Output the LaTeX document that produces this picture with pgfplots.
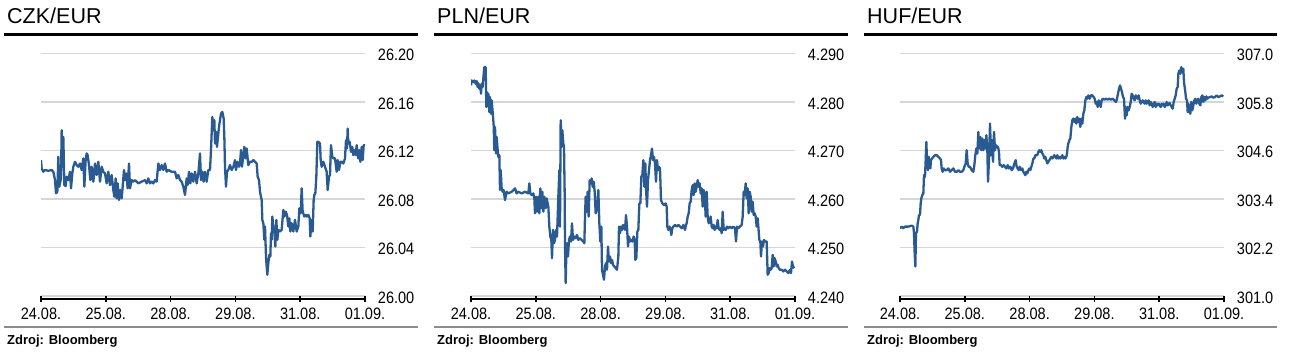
\documentclass[border=0pt]{standalone}
\usepackage{fontspec}
\setmainfont{Liberation Sans}
\newfontfamily\tickfont[FakeStretch=0.88]{Liberation Sans}
\usepackage{pgfplots}
\pgfplotsset{compat=1.18}
\definecolor{serie}{HTML}{2A5A92}
\definecolor{gridc}{HTML}{D6D6D6}
\definecolor{rulegray}{HTML}{8C8C8C}
\pgfplotsset{fx/.style={
  scale only axis, width=324pt, height=242.5pt, anchor=south west,
  xmin=0, xmax=972,
  xtick={0,194.4,388.8,583.2,777.6,972},
  xticklabels={24.08.,25.08.,28.08.,29.08.,31.08.,01.09.},
  axis x line*=bottom, axis y line*=right,
  y axis line style={draw=none},
  x axis line style={line width=1.6pt, black, yshift=-3pt},
  xtick style={line width=1.6pt, black, yshift=-3pt},
  ytick style={draw=none},
  major tick length=5.5pt, tick align=center,
  ymajorgrids, grid style={gridc, line width=1.7pt},
  ticklabel style={font=\tickfont\fontsize{16.5}{18}\selectfont, text=black},
  yticklabel style={anchor=west, inner sep=0pt, xshift=10pt, yshift=-1.5pt},
  xticklabel style={anchor=north, inner sep=0pt, yshift=-9pt},
}}
\begin{document}
\begin{tikzpicture}
\useasboundingbox (0pt,0pt) rectangle (1292pt,-360pt);
% ---------- CZK ----------
\node[anchor=base west, inner sep=0pt, font=\fontsize{21.5}{24}\selectfont] at (7pt,-23.3pt) {CZK/EUR};
\draw[line width=3.3pt] (4pt,-34.3pt) -- (418.3pt,-34.3pt);
\draw[rulegray, line width=2pt] (4pt,-326.7pt) -- (418.3pt,-326.7pt);
\node[anchor=base west, inner sep=0pt, font=\bfseries\fontsize{13}{15}\selectfont] at (7pt,-344pt) {Zdroj: Bloomberg};
\begin{axis}[fx, at={(41pt,-296pt)}, ymin=26, ymax=26.2,
  ytick={26,26.04,26.08,26.12,26.16,26.2},
  yticklabels={26.00,26.04,26.08,26.12,26.16,26.20}]
\addplot[serie, line width=2.3pt, line join=round] coordinates {
(0,26.1121) (2,26.1052) (7,26.1025) (12,26.1039) (22,26.1033) (32,26.1039) (37,26.1025) (42,26.0956) (45,26.0847) (49,26.0861)
(52,26.1148) (55,26.0902) (60,26.0970) (62,26.1367) (65,26.1066) (67,26.1313) (70,26.0915) (74,26.0907) (77,26.0984) (82,26.0956)
(87,26.1025) (90,26.0888) (94,26.1011) (97,26.1066) (102,26.1107) (107,26.1080) (112,26.1066) (117,26.1093) (122,26.1039) (127,26.1135)
(130,26.0902) (134,26.1121) (137,26.1176) (140,26.1162) (144,26.1080) (148,26.0956) (152,26.1066) (157,26.0943) (162,26.1093) (167,26.0998)
(172,26.1107) (177,26.0943) (182,26.1066) (187,26.1025) (192,26.1011) (197,26.0929) (202,26.1025) (207,26.0915) (212,26.0998) (217,26.0874)
(220,26.0819) (224,26.0970) (227,26.0806) (230,26.0929) (234,26.0792) (238,26.0874) (242,26.0806) (245,26.0902) (249,26.1039) (252,26.0956)
(256,26.1011) (260,26.0888) (264,26.1093) (267,26.0888) (272,26.0956) (277,26.0943) (282,26.0956) (292,26.0929) (302,26.0943) (312,26.0956)
(317,26.0929) (322,26.0970) (327,26.0929) (332,26.0943) (337,26.0929) (342,26.0956) (347,26.0943) (352,26.1093) (357,26.1039) (362,26.1080)
(367,26.1039) (372,26.1093) (377,26.1025) (382,26.1039) (392,26.1025) (402,26.1025) (407,26.0970) (412,26.0998) (417,26.0956) (422,26.0943)
(427,26.0902) (432,26.0833) (437,26.0970) (440,26.0915) (444,26.1025) (448,26.0929) (452,26.1011) (457,26.0943) (462,26.1025) (467,26.0929)
(472,26.1011) (477,26.1176) (480,26.0956) (484,26.1025) (488,26.0943) (492,26.1025) (497,26.0943) (502,26.1039) (507,26.1039) (510,26.1203)
(514,26.1477) (517,26.1367) (520,26.1450) (522,26.1258) (525,26.1354) (528,26.1230) (531,26.1313) (534,26.1395) (537,26.1450) (540,26.1504)
(544,26.1518) (548,26.1463) (550,26.1313) (552,26.1066) (555,26.0902) (558,26.1025) (562,26.1039) (567,26.1080) (572,26.1039) (577,26.1066)
(582,26.1121) (585,26.1039) (589,26.1107) (594,26.1066) (597,26.1093) (600,26.1203) (603,26.1066) (607,26.1162) (610,26.1230) (614,26.1135)
(617,26.1217) (622,26.1080) (627,26.1107) (632,26.1107) (637,26.1121) (642,26.1107) (647,26.1093) (650,26.0984) (654,26.0956) (657,26.0861)
(660,26.0819) (662,26.0792) (664,26.0628) (667,26.0600) (670,26.0463) (672,26.0573) (675,26.0326) (677,26.0244) (679,26.0175) (682,26.0271)
(685,26.0340) (688,26.0326) (690,26.0518) (692,26.0463) (694,26.0655) (697,26.0573) (700,26.0532) (703,26.0408) (706,26.0628) (709,26.0463)
(712,26.0545) (717,26.0532) (722,26.0545) (727,26.0710) (730,26.0655) (734,26.0696) (738,26.0669) (742,26.0573) (745,26.0641) (748,26.0532)
(752,26.0600) (757,26.0532) (762,26.0628) (767,26.0532) (772,26.0573) (775,26.0724) (779,26.0682) (782,26.0888) (785,26.0696) (790,26.0655)
(794,26.0669) (798,26.0655) (802,26.0669) (806,26.0641) (808,26.0491) (812,26.0628) (815,26.0532) (818,26.0792) (820,26.0833) (823,26.0847)
(826,26.0984) (829,26.1272) (832,26.1272) (837,26.1258) (839,26.1121) (842,26.1066) (847,26.1107) (852,26.1066) (857,26.1025) (860,26.0874)
(864,26.0984) (867,26.0998) (870,26.1244) (874,26.1148) (877,26.1135) (882,26.1135) (887,26.1025) (890,26.1121) (894,26.1039) (898,26.1107)
(902,26.1107) (907,26.1093) (912,26.1135) (915,26.1285) (918,26.1217) (920,26.1381) (922,26.1258) (926,26.1272) (930,26.1189) (934,26.1230)
(937,26.1162) (940,26.1203) (944,26.1162) (947,26.1244) (952,26.1135) (955,26.1203) (958,26.1107) (962,26.1230) (965,26.1121) (968,26.1244)
(972,26.1244)
};
\end{axis}
% ---------- PLN ----------
\node[anchor=base west, inner sep=0pt, font=\fontsize{21.5}{24}\selectfont] at (437pt,-23.3pt) {PLN/EUR};
\draw[line width=3.3pt] (434pt,-34.3pt) -- (848.3pt,-34.3pt);
\draw[rulegray, line width=2pt] (434pt,-326.7pt) -- (848.3pt,-326.7pt);
\node[anchor=base west, inner sep=0pt, font=\bfseries\fontsize{13}{15}\selectfont] at (437pt,-344pt) {Zdroj: Bloomberg};
\begin{axis}[fx, at={(471pt,-296pt)}, ymin=4.24, ymax=4.29,
  ytick={4.24,4.25,4.26,4.27,4.28,4.29},
  yticklabels={4.240,4.250,4.260,4.270,4.280,4.290}]
\addplot[serie, line width=2.3pt, line join=round] coordinates {
(0,4.28342) (2,4.28445) (7,4.28411) (10,4.28445) (14,4.28377) (17,4.28431) (20,4.28308) (22,4.2839) (25,4.28274) (28,4.28342)
(30,4.28171) (32,4.28377) (35,4.28308) (38,4.28582) (40,4.28719) (44,4.28719) (46,4.27897) (48,4.28205) (50,4.27966) (52,4.28171)
(55,4.27794) (57,4.28103) (60,4.2776) (62,4.28034) (65,4.27794) (68,4.2752) (70,4.27007) (72,4.27486) (75,4.26938) (77,4.27281)
(80,4.27007) (82,4.2687) (85,4.26904) (87,4.26185) (89,4.26596) (92,4.26219) (95,4.2615) (98,4.26185) (102,4.25979) (107,4.2615)
(112,4.26116) (122,4.2615) (132,4.26219) (137,4.26116) (142,4.2615) (152,4.26116) (162,4.2615) (172,4.26116) (175,4.26322) (178,4.26116)
(182,4.26082) (187,4.26116) (190,4.26013) (192,4.25705) (195,4.26048) (198,4.25739) (202,4.26048) (205,4.25705) (208,4.26219) (211,4.25808)
(214,4.2615) (217,4.25739) (220,4.26048) (224,4.25808) (227,4.26013) (230,4.2591) (232,4.25842) (235,4.25431) (238,4.25226) (241,4.25157)
(243,4.2478) (246,4.25363) (249,4.25089) (252,4.25157) (255,4.25363) (258,4.25226) (262,4.26048) (265,4.26596) (267,4.25431) (269,4.27623)
(272,4.27075) (274,4.27418) (277,4.27144) (279,4.27075) (281,4.26116) (282,4.2502) (284,4.24267) (286,4.24883) (288,4.25089) (291,4.24815)
(294,4.25157) (297,4.25226) (300,4.25123) (303,4.255) (306,4.25157) (310,4.25226) (314,4.25191) (318,4.2526) (322,4.25157) (327,4.25191)
(332,4.25157) (337,4.25123) (340,4.25089) (342,4.25637) (344,4.26048) (347,4.25739) (350,4.2615) (353,4.25637) (356,4.2639) (359,4.26322)
(362,4.26424) (365,4.26253) (368,4.26356) (371,4.2615) (374,4.25705) (377,4.25774) (380,4.25979) (382,4.26185) (385,4.255) (388,4.25123)
(391,4.25431) (393,4.24541) (396,4.24438) (399,4.24335) (402,4.24609) (405,4.24678) (408,4.24541) (411,4.2502) (414,4.24712) (417,4.24815)
(420,4.24678) (423,4.24746) (426,4.24643) (430,4.24609) (434,4.24575) (438,4.24541) (442,4.24815) (444,4.25431) (447,4.25294) (450,4.25431)
(453,4.25363) (456,4.25465) (459,4.25431) (462,4.25363) (465,4.25671) (468,4.25431) (471,4.2502) (474,4.25226) (477,4.25123) (480,4.25157)
(484,4.25123) (488,4.25226) (491,4.25157) (493,4.24746) (496,4.2478) (499,4.25328) (502,4.25363) (505,4.2591) (508,4.2591) (511,4.2646)
(514,4.26493) (517,4.26801) (520,4.26253) (523,4.26733) (525,4.26219) (528,4.25842) (531,4.2639) (534,4.26596) (537,4.26801) (540,4.26904)
(543,4.27041) (546,4.26801) (549,4.2687) (552,4.26733) (555,4.26356) (558,4.26801) (561,4.26596) (564,4.26664) (567,4.2663) (570,4.25979)
(574,4.2591) (579,4.25876) (584,4.2591) (587,4.25842) (589,4.25431) (592,4.25363) (595,4.25431) (598,4.25397) (601,4.2526) (604,4.25397)
(607,4.25431) (612,4.25465) (617,4.25431) (622,4.25465) (627,4.25431) (632,4.25397) (637,4.25465) (642,4.25363) (645,4.25465) (647,4.255)
(650,4.25637) (653,4.25705) (656,4.2591) (659,4.25945) (662,4.26185) (665,4.26287) (668,4.26082) (671,4.26322) (674,4.2615) (677,4.26253)
(680,4.2639) (683,4.26253) (686,4.26322) (689,4.26116) (692,4.26219) (695,4.25842) (698,4.26185) (701,4.26082) (704,4.25637) (707,4.2615)
(710,4.25637) (713,4.255) (716,4.25568) (719,4.25637) (722,4.25431) (725,4.25397) (728,4.25465) (731,4.25363) (734,4.25431) (737,4.25397)
(740,4.25568) (743,4.25397) (746,4.25363) (749,4.25397) (752,4.25294) (755,4.25739) (758,4.25363) (761,4.25397) (764,4.25363) (768,4.25431)
(772,4.25397) (777,4.25431) (782,4.25397) (787,4.25431) (792,4.25397) (795,4.25123) (798,4.25431) (802,4.25397) (807,4.25431) (812,4.25465)
(815,4.25637) (818,4.2615) (821,4.26082) (824,4.26322) (827,4.26013) (830,4.26219) (833,4.25705) (836,4.2615) (839,4.26048) (842,4.25739)
(845,4.25945) (848,4.25671) (851,4.25705) (854,4.25637) (857,4.25431) (860,4.25602) (862,4.25431) (865,4.25157) (868,4.25123) (870,4.24815)
(873,4.25123) (876,4.2502) (879,4.25157) (882,4.25123) (887,4.25123) (890,4.24438) (893,4.24472) (896,4.24575) (899,4.24541) (902,4.24575)
(905,4.24849) (908,4.24609) (911,4.2478) (914,4.24712) (917,4.24609) (920,4.24643) (923,4.24575) (927,4.24541) (932,4.24541) (937,4.24506)
(942,4.24541) (947,4.24506) (952,4.24472) (957,4.24541) (960,4.24472) (963,4.24712) (966,4.24609) (970,4.24575)
};
\end{axis}
% ---------- HUF ----------
\node[anchor=base west, inner sep=0pt, font=\fontsize{21.5}{24}\selectfont] at (867pt,-23.3pt) {HUF/EUR};
\draw[line width=3.3pt] (864pt,-34.3pt) -- (1276.7pt,-34.3pt);
\draw[rulegray, line width=2pt] (864pt,-326.7pt) -- (1276.7pt,-326.7pt);
\node[anchor=base west, inner sep=0pt, font=\bfseries\fontsize{13}{15}\selectfont] at (867pt,-344pt) {Zdroj: Bloomberg};
\begin{axis}[fx, at={(900pt,-296pt)}, ymin=301, ymax=307,
  ytick={301,302.2,303.4,304.6,305.8,307},
  yticklabels={301.0,302.2,303.4,304.6,305.8,307.0}]
\addplot[serie, line width=2.3pt, line join=round] coordinates {
(0,302.676) (5,302.717) (10,302.676) (15,302.717) (25,302.717) (35,302.742) (40,302.717) (42,302.553) (44,302.060) (46,301.731)
(48,302.553) (51,302.594) (53,302.800) (55,302.882) (57,303.005) (60,303.005) (62,303.293) (64,303.416) (67,303.498) (70,303.539)
(72,303.991) (75,303.950) (77,304.361) (79,304.813) (81,304.361) (84,304.115) (86,304.443) (89,304.320) (91,304.156) (93,304.361)
(96,304.402) (100,304.443) (105,304.485) (110,304.485) (115,304.443) (120,304.402) (123,304.361) (125,304.156) (128,304.074) (131,304.156)
(135,304.115) (140,304.115) (145,304.156) (150,304.074) (155,304.115) (160,304.156) (165,304.074) (170,304.074) (175,304.115) (180,304.074)
(185,304.074) (190,304.115) (193,304.197) (197,304.279) (200,304.608) (203,304.279) (206,304.197) (210,304.197) (215,304.115) (220,304.074)
(223,304.238) (226,304.485) (229,304.649) (232,304.526) (235,305.060) (238,304.649) (241,304.937) (244,304.608) (247,304.896) (250,304.608)
(253,304.854) (256,304.649) (259,304.978) (262,304.608) (264,303.827) (267,304.361) (270,305.265) (273,304.485) (276,304.854) (279,304.320)
(282,305.060) (285,304.608) (288,304.731) (291,304.690) (294,304.690) (297,304.567) (299,304.238) (303,304.238) (307,304.197) (311,304.238)
(315,304.197) (319,304.156) (323,304.238) (327,304.156) (331,304.197) (335,304.115) (339,304.156) (343,304.279) (347,304.361) (350,304.197)
(353,304.156) (356,304.115) (359,304.197) (363,304.115) (367,304.156) (370,304.074) (373,304.033) (376,303.991) (379,304.074) (382,304.033)
(385,304.115) (388,304.156) (391,304.115) (394,304.197) (397,304.279) (400,304.402) (403,304.402) (406,304.485) (409,304.485) (412,304.485)
(415,304.567) (418,304.608) (421,304.567) (424,304.608) (427,304.526) (430,304.485) (433,304.402) (436,304.443) (439,304.361) (442,304.279)
(445,304.320) (448,304.361) (451,304.402) (454,304.443) (457,304.402) (460,304.443) (463,304.485) (466,304.443) (469,304.402) (472,304.485)
(475,304.402) (478,304.443) (481,304.402) (484,304.443) (487,304.485) (490,304.402) (493,304.443) (496,304.402) (499,304.443) (501,304.526)
(503,304.690) (505,304.772) (508,304.854) (511,304.896) (514,305.183) (517,305.348) (520,305.389) (523,305.306) (526,305.389) (529,305.265)
(532,305.430) (535,305.306) (538,305.389) (541,305.183) (544,305.389) (547,305.265) (550,305.512) (553,305.594) (556,305.841) (559,305.923)
(562,305.882) (565,305.964) (569,305.882) (573,305.964) (577,305.964) (581,305.923) (584,305.882) (587,305.759) (590,305.800) (593,305.676)
(596,305.841) (599,305.759) (602,305.676) (605,305.841) (608,305.882) (613,305.857) (618,305.882) (623,305.857) (628,305.882) (633,305.857)
(638,305.882) (643,305.841) (648,305.800) (651,305.882) (654,306.005) (657,306.128) (660,306.211) (663,306.128) (666,306.046) (669,305.923)
(672,305.882) (675,305.389) (677,305.676) (680,305.471) (683,305.676) (686,305.594) (689,305.676) (692,305.800) (695,306.005) (698,305.964)
(701,305.882) (704,305.841) (707,305.964) (710,305.923) (713,305.882) (716,305.964) (719,305.841) (722,305.759) (725,305.800) (728,305.841)
(731,305.800) (734,305.759) (737,305.841) (740,305.759) (743,305.800) (746,305.841) (749,305.717) (752,305.800) (755,305.759) (758,305.676)
(761,305.759) (764,305.800) (767,305.676) (770,305.759) (773,305.717) (776,305.759) (779,305.717) (782,305.676) (785,305.759) (788,305.717)
(791,305.759) (794,305.676) (797,305.717) (800,305.800) (803,305.717) (806,305.759) (809,305.775) (812,305.717) (815,305.676) (818,305.635)
(821,305.800) (824,305.882) (827,305.964) (830,306.128) (833,306.169) (835,306.498) (838,306.580) (841,306.498) (844,306.663) (847,306.539)
(850,306.622) (852,306.293) (854,306.169) (856,306.046) (858,305.882) (861,305.841) (863,305.553) (865,305.759) (868,305.553) (871,305.512)
(874,305.800) (877,305.594) (880,305.717) (883,305.841) (886,305.882) (889,305.759) (892,305.841) (895,305.882) (898,305.759) (901,305.717)
(904,305.923) (907,305.964) (910,305.800) (913,305.923) (916,305.841) (919,305.939) (922,305.882) (925,305.906) (930,305.923) (935,305.939)
(940,305.906) (945,305.923) (950,305.964) (955,305.923) (960,305.939) (965,305.964) (970,305.939)
};
\end{axis}
\end{tikzpicture}
\end{document}
